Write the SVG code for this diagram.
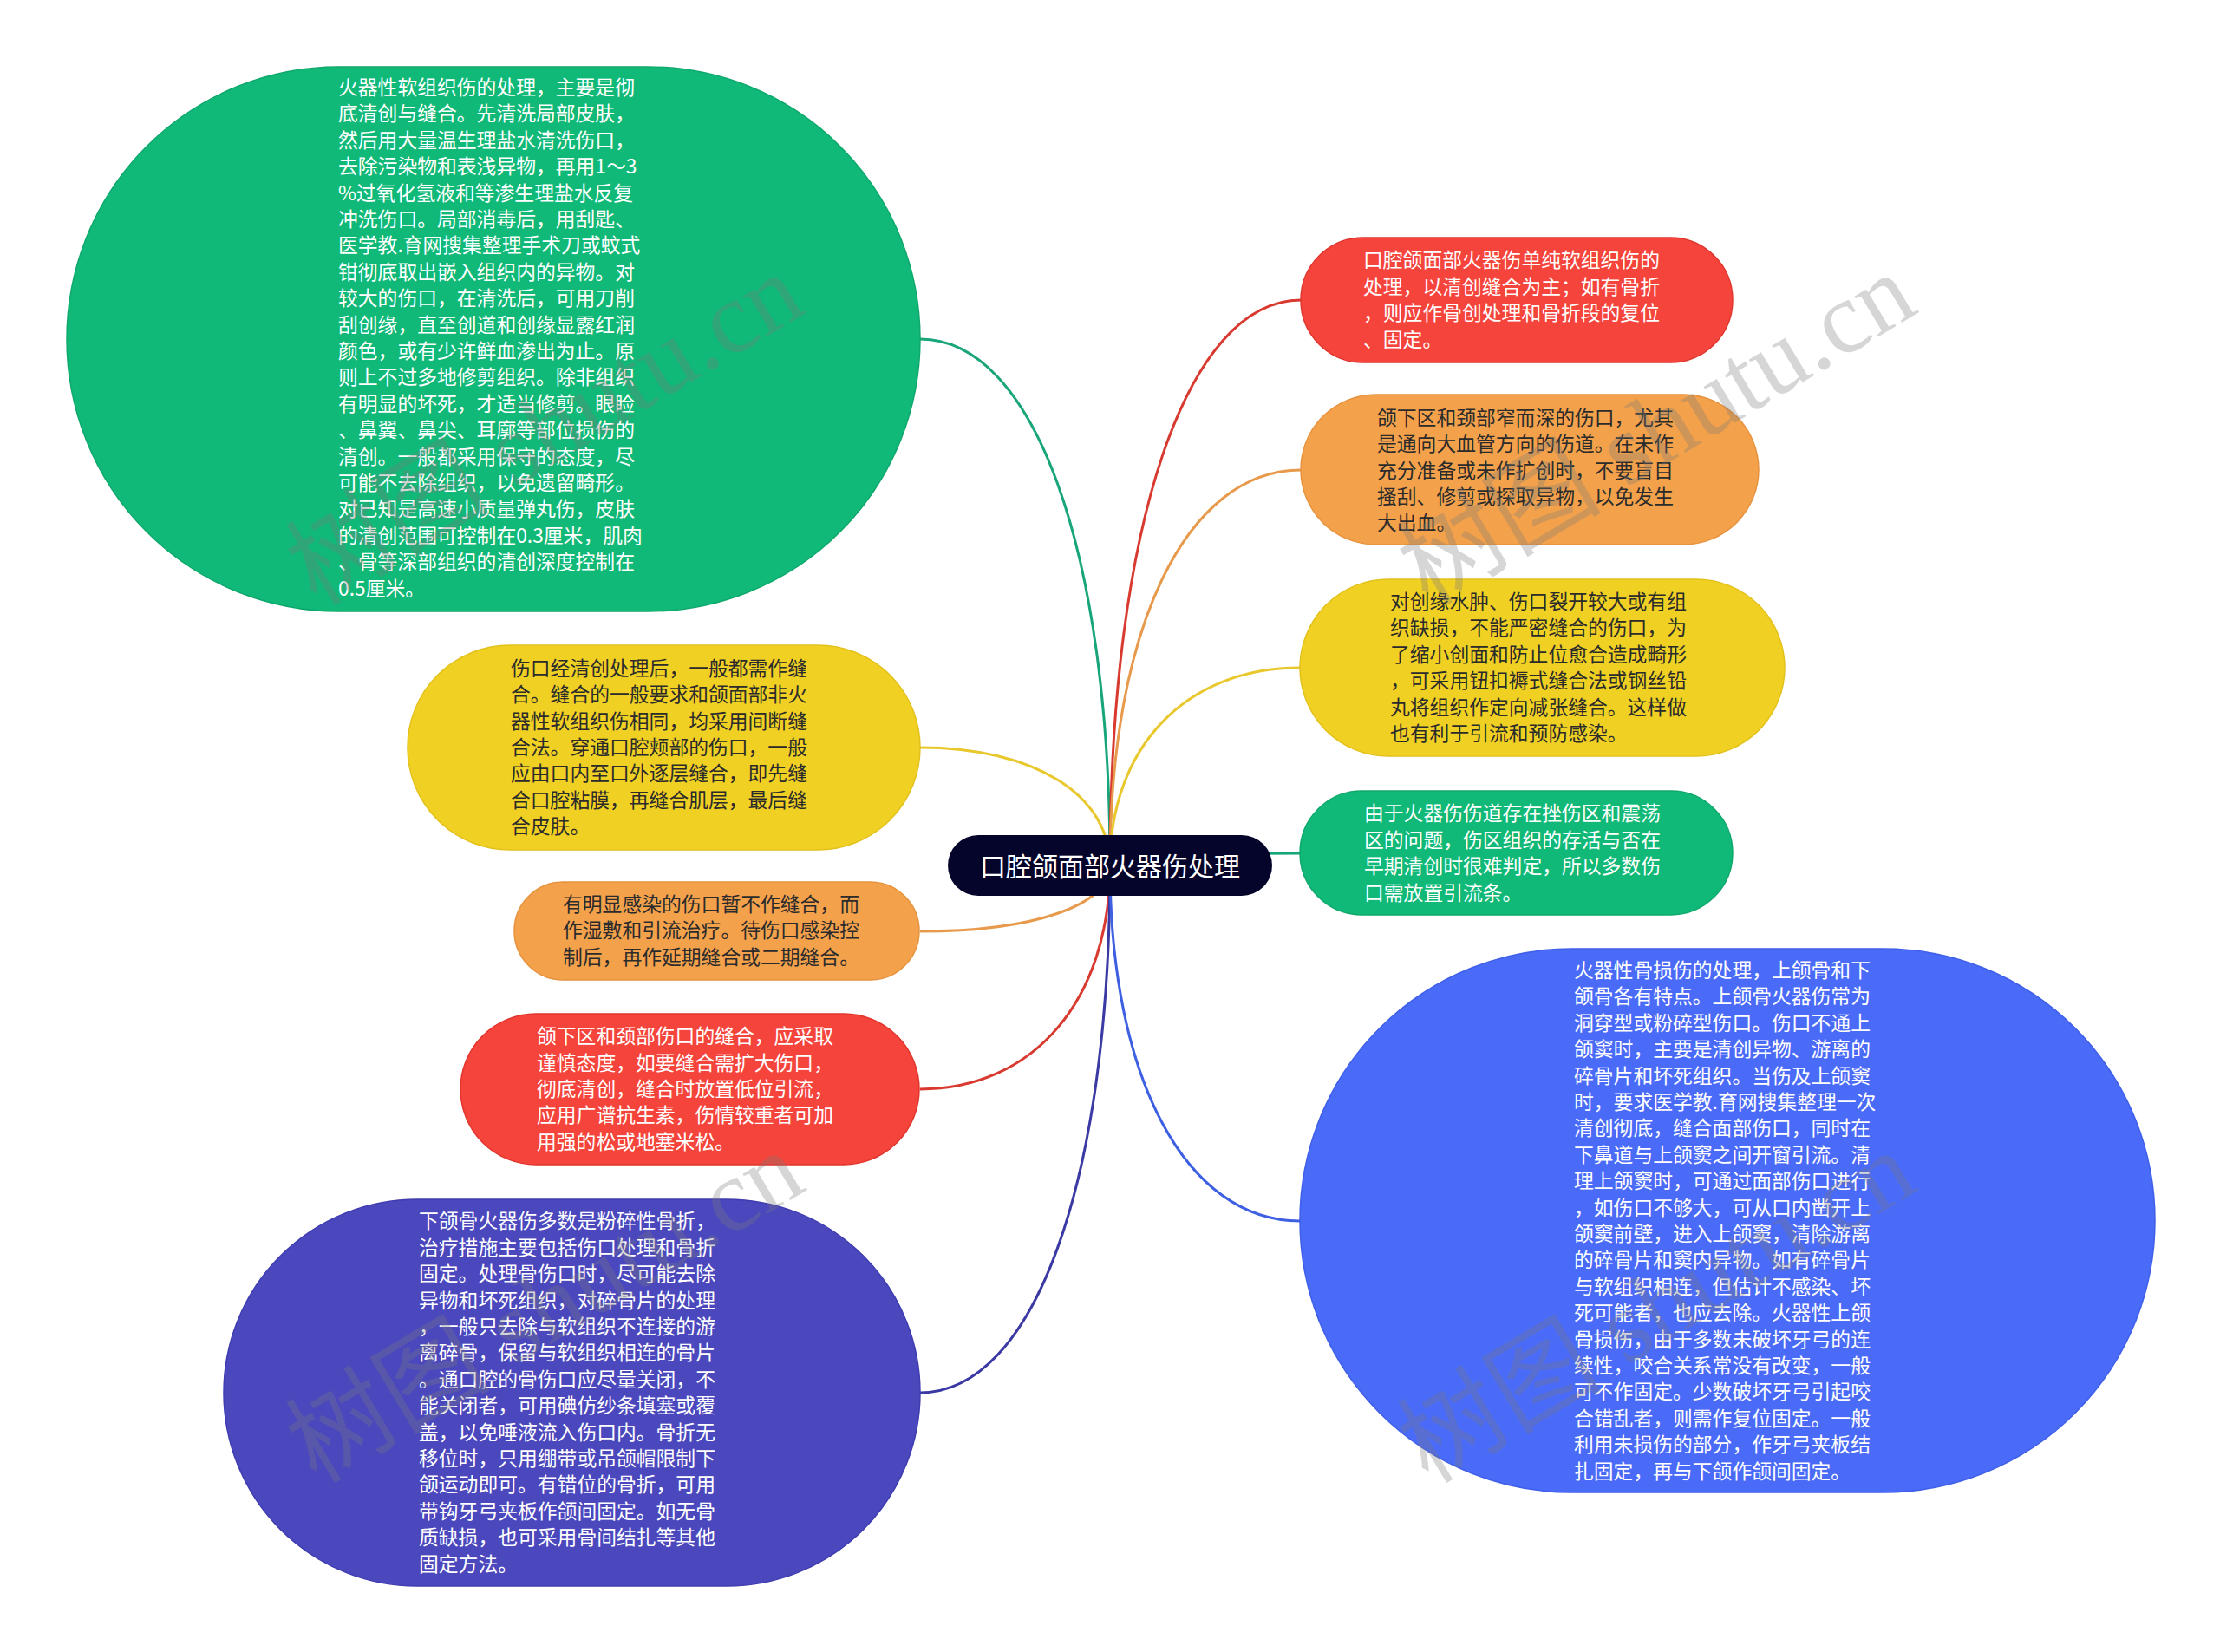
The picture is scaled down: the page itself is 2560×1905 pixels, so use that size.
<svg xmlns="http://www.w3.org/2000/svg" width="2560" height="1905" viewBox="0 0 2560 1905">
<style>
.t{font-family:"Noto Sans CJK SC","Noto Sans",sans-serif;font-size:22.8px;}
.w{fill:#ffffff;}
.d{fill:#2b2b2b;}
.c{fill:none;stroke-width:3;}
.wm{font-family:"Liberation Serif","Noto Sans CJK SC",serif;font-size:118px;fill:#7a7a7a;opacity:0.3;}
</style>
<rect width="2560" height="1905" fill="#ffffff"/>
<g id="connectors">
<path class="c" stroke="#19a57a" d="M1280 998 C1280 634 1192 391 1061 391"/>
<path class="c" stroke="#e8c82c" d="M1280 998 C1280 916 1192 862 1061 862"/>
<path class="c" stroke="#e89a4c" d="M1280 998 C1280 1044 1192 1074 1061 1074"/>
<path class="c" stroke="#d83a30" d="M1280 998 C1280 1153 1192 1256 1061 1256"/>
<path class="c" stroke="#3b3aa4" d="M1280 998 C1280 1363 1192 1606 1061 1606"/>
<path class="c" stroke="#d83a30" d="M1280 998 C1280 607 1368 346 1500 346"/>
<path class="c" stroke="#e89a4c" d="M1280 998 C1280 724 1368 542 1500 542"/>
<path class="c" stroke="#e8c82c" d="M1280 998 C1280 861 1368 770 1499 770"/>
<path class="c" stroke="#19a57a" d="M1280 998 C1280 990 1368 984 1499 984"/>
<path class="c" stroke="#3d5fe2" d="M1280 998 C1280 1244 1368 1408 1499 1408"/>
</g>
<g id="center">
<rect x="1093" y="963" width="374" height="70" rx="35" fill="#05052c"/>
<text x="1280" y="1010" text-anchor="middle" font-family="Noto Sans CJK SC, sans-serif" font-size="30" fill="#ffffff">口腔颌面部火器伤处理</text>
</g>
<g id="n1">
<rect x="77" y="77" width="984" height="628" rx="314" fill="#10b977" stroke="#0fa86c" stroke-width="1.5"/>
<text class="t w"><tspan x="390" y="109">火器性软组织伤的处理，主要是彻</tspan><tspan x="390" y="139.4">底清创与缝合。先清洗局部皮肤，</tspan><tspan x="390" y="169.8">然后用大量温生理盐水清洗伤口，</tspan><tspan x="390" y="200.2">去除污染物和表浅异物，再用1～3</tspan><tspan x="390" y="230.6">%过氧化氢液和等渗生理盐水反复</tspan><tspan x="390" y="261">冲洗伤口。局部消毒后，用刮匙、</tspan><tspan x="390" y="291.4">医学教.育网搜集整理手术刀或蚊式</tspan><tspan x="390" y="321.8">钳彻底取出嵌入组织内的异物。对</tspan><tspan x="390" y="352.2">较大的伤口，在清洗后，可用刀削</tspan><tspan x="390" y="382.6">刮创缘，直至创道和创缘显露红润</tspan><tspan x="390" y="413">颜色，或有少许鲜血渗出为止。原</tspan><tspan x="390" y="443.4">则上不过多地修剪组织。除非组织</tspan><tspan x="390" y="473.8">有明显的坏死，才适当修剪。眼睑</tspan><tspan x="390" y="504.2">、鼻翼、鼻尖、耳廓等部位损伤的</tspan><tspan x="390" y="534.6">清创。一般都采用保守的态度，尽</tspan><tspan x="390" y="565">可能不去除组织，以免遗留畸形。</tspan><tspan x="390" y="595.4">对已知是高速小质量弹丸伤，皮肤</tspan><tspan x="390" y="625.8">的清创范围可控制在0.3厘米，肌肉</tspan><tspan x="390" y="656.2">、骨等深部组织的清创深度控制在</tspan><tspan x="390" y="686.6">0.5厘米。</tspan></text>
</g>
<g id="n2">
<rect x="470" y="744" width="591" height="236" rx="118" fill="#f1d024" stroke="#e2c11c" stroke-width="1.5"/>
<text class="t d"><tspan x="589" y="778.8">伤口经清创处理后，一般都需作缝</tspan><tspan x="589" y="809.2">合。缝合的一般要求和颌面部非火</tspan><tspan x="589" y="839.6">器性软组织伤相同，均采用间断缝</tspan><tspan x="589" y="870">合法。穿通口腔颊部的伤口，一般</tspan><tspan x="589" y="900.4">应由口内至口外逐层缝合，即先缝</tspan><tspan x="589" y="930.8">合口腔粘膜，再缝合肌层，最后缝</tspan><tspan x="589" y="961.2">合皮肤。</tspan></text>
</g>
<g id="n3">
<rect x="593" y="1017" width="467" height="113" rx="56.5" fill="#f4a14b" stroke="#e6923e" stroke-width="1.5"/>
<text class="t d"><tspan x="649" y="1051">有明显感染的伤口暂不作缝合，而</tspan><tspan x="649" y="1081.4">作湿敷和引流治疗。待伤口感染控</tspan><tspan x="649" y="1111.8">制后，再作延期缝合或二期缝合。</tspan></text>
</g>
<g id="n4">
<rect x="531" y="1169" width="529" height="174" rx="87" fill="#f5443b" stroke="#e0352d" stroke-width="1.5"/>
<text class="t w"><tspan x="619" y="1203.2">颌下区和颈部伤口的缝合，应采取</tspan><tspan x="619" y="1233.6">谨慎态度，如要缝合需扩大伤口，</tspan><tspan x="619" y="1264">彻底清创，缝合时放置低位引流，</tspan><tspan x="619" y="1294.4">应用广谱抗生素，伤情较重者可加</tspan><tspan x="619" y="1324.8">用强的松或地塞米松。</tspan></text>
</g>
<g id="n5">
<rect x="258" y="1383" width="803" height="446" rx="223" fill="#4b48be" stroke="#3f3cb0" stroke-width="1.5"/>
<text class="t w"><tspan x="483" y="1416.4">下颌骨火器伤多数是粉碎性骨折，</tspan><tspan x="483" y="1446.8">治疗措施主要包括伤口处理和骨折</tspan><tspan x="483" y="1477.2">固定。处理骨伤口时，尽可能去除</tspan><tspan x="483" y="1507.6">异物和坏死组织，对碎骨片的处理</tspan><tspan x="483" y="1538">，一般只去除与软组织不连接的游</tspan><tspan x="483" y="1568.4">离碎骨，保留与软组织相连的骨片</tspan><tspan x="483" y="1598.8">。通口腔的骨伤口应尽量关闭，不</tspan><tspan x="483" y="1629.2">能关闭者，可用碘仿纱条填塞或覆</tspan><tspan x="483" y="1659.6">盖，以免唾液流入伤口内。骨折无</tspan><tspan x="483" y="1690">移位时，只用绷带或吊颌帽限制下</tspan><tspan x="483" y="1720.4">颌运动即可。有错位的骨折，可用</tspan><tspan x="483" y="1750.8">带钩牙弓夹板作颌间固定。如无骨</tspan><tspan x="483" y="1781.2">质缺损，也可采用骨间结扎等其他</tspan><tspan x="483" y="1811.6">固定方法。</tspan></text>
</g>
<g id="n6">
<rect x="1500" y="274" width="498" height="144" rx="72" fill="#f5443b" stroke="#e0352d" stroke-width="1.5"/>
<text class="t w"><tspan x="1572" y="308.4">口腔颌面部火器伤单纯软组织伤的</tspan><tspan x="1572" y="338.8">处理，以清创缝合为主；如有骨折</tspan><tspan x="1572" y="369.2">，则应作骨创处理和骨折段的复位</tspan><tspan x="1572" y="399.6">、固定。</tspan></text>
</g>
<g id="n7">
<rect x="1500" y="455" width="528" height="173" rx="86.5" fill="#f4a14b" stroke="#e6923e" stroke-width="1.5"/>
<text class="t d"><tspan x="1588" y="489.7">颌下区和颈部窄而深的伤口，尤其</tspan><tspan x="1588" y="520.1">是通向大血管方向的伤道。在未作</tspan><tspan x="1588" y="550.5">充分准备或未作扩创时，不要盲目</tspan><tspan x="1588" y="580.9">搔刮、修剪或探取异物，以免发生</tspan><tspan x="1588" y="611.3">大出血。</tspan></text>
</g>
<g id="n8">
<rect x="1499" y="668" width="559" height="204" rx="102" fill="#f1d024" stroke="#e2c11c" stroke-width="1.5"/>
<text class="t d"><tspan x="1603" y="702">对创缘水肿、伤口裂开较大或有组</tspan><tspan x="1603" y="732.4">织缺损，不能严密缝合的伤口，为</tspan><tspan x="1603" y="762.8">了缩小创面和防止位愈合造成畸形</tspan><tspan x="1603" y="793.2">，可采用钮扣褥式缝合法或钢丝铅</tspan><tspan x="1603" y="823.6">丸将组织作定向减张缝合。这样做</tspan><tspan x="1603" y="854">也有利于引流和预防感染。</tspan></text>
</g>
<g id="n9">
<rect x="1499" y="912" width="499" height="143" rx="71.5" fill="#10b977" stroke="#0fa86c" stroke-width="1.5"/>
<text class="t w"><tspan x="1573" y="946.4">由于火器伤伤道存在挫伤区和震荡</tspan><tspan x="1573" y="976.8">区的问题，伤区组织的存活与否在</tspan><tspan x="1573" y="1007.2">早期清创时很难判定，所以多数伤</tspan><tspan x="1573" y="1037.6">口需放置引流条。</tspan></text>
</g>
<g id="n10">
<rect x="1499" y="1094" width="986" height="627" rx="313.5" fill="#4a6bf8" stroke="#3f5fe8" stroke-width="1.5"/>
<text class="t w"><tspan x="1815" y="1127">火器性骨损伤的处理，上颌骨和下</tspan><tspan x="1815" y="1157.4">颌骨各有特点。上颌骨火器伤常为</tspan><tspan x="1815" y="1187.8">洞穿型或粉碎型伤口。伤口不通上</tspan><tspan x="1815" y="1218.2">颌窦时，主要是清创异物、游离的</tspan><tspan x="1815" y="1248.6">碎骨片和坏死组织。当伤及上颌窦</tspan><tspan x="1815" y="1279">时，要求医学教.育网搜集整理一次</tspan><tspan x="1815" y="1309.4">清创彻底，缝合面部伤口，同时在</tspan><tspan x="1815" y="1339.8">下鼻道与上颌窦之间开窗引流。清</tspan><tspan x="1815" y="1370.2">理上颌窦时，可通过面部伤口进行</tspan><tspan x="1815" y="1400.6">，如伤口不够大，可从口内凿开上</tspan><tspan x="1815" y="1431">颌窦前壁，进入上颌窦，清除游离</tspan><tspan x="1815" y="1461.4">的碎骨片和窦内异物。如有碎骨片</tspan><tspan x="1815" y="1491.8">与软组织相连，但估计不感染、坏</tspan><tspan x="1815" y="1522.2">死可能者，也应去除。火器性上颌</tspan><tspan x="1815" y="1552.6">骨损伤，由于多数未破坏牙弓的连</tspan><tspan x="1815" y="1583">续性，咬合关系常没有改变，一般</tspan><tspan x="1815" y="1613.4">可不作固定。少数破坏牙弓引起咬</tspan><tspan x="1815" y="1643.8">合错乱者，则需作复位固定。一般</tspan><tspan x="1815" y="1674.2">利用未损伤的部分，作牙弓夹板结</tspan><tspan x="1815" y="1704.6">扎固定，再与下颌作颌间固定。</tspan></text>
</g>
<g id="watermarks">
<text class="wm" transform="translate(365 700) rotate(-31)">树图 shutu.cn</text>
<text class="wm" transform="translate(1647 700) rotate(-31)">树图 shutu.cn</text>
<text class="wm" transform="translate(365 1712) rotate(-31)">树图 shutu.cn</text>
<text class="wm" transform="translate(1647 1712) rotate(-31)">树图 shutu.cn</text>
</g>
</svg>
